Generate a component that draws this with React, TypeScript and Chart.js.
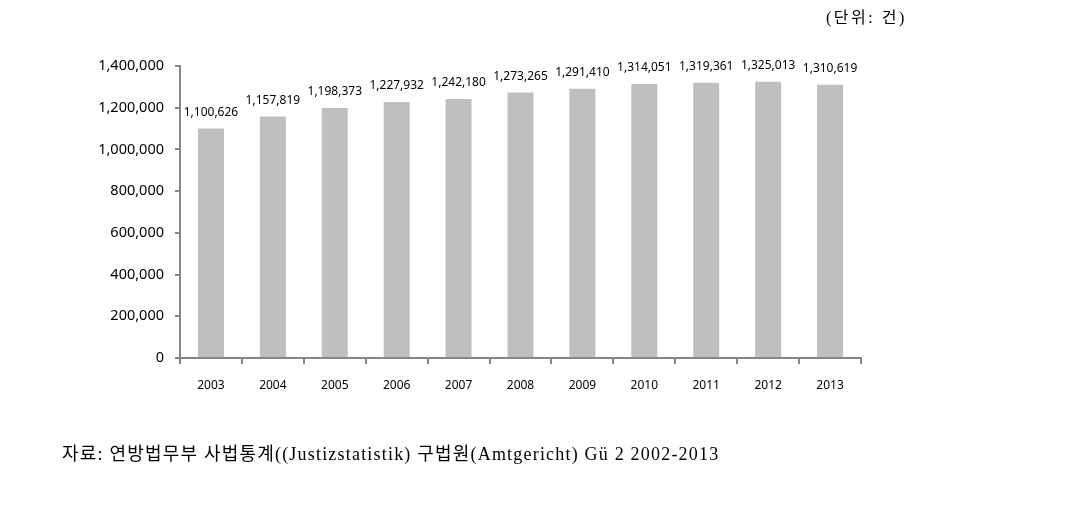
import React, { useEffect, useRef } from "react";
import { Chart, registerables } from "chart.js";

Chart.register(...registerables);

const years = ["2003", "2004", "2005", "2006", "2007", "2008", "2009", "2010", "2011", "2012", "2013"];
const cases = [1100626, 1157819, 1198373, 1227932, 1242180, 1273265, 1291410, 1314051, 1319361, 1325013, 1310619];
const unitLabel = "(단위: 건)";
const sourceLabel = "자료: 연방법무부 사법통계((Justizstatistik) 구법원(Amtgericht) Gü 2 2002-2013";

const fmt = (v: number) => v.toLocaleString("en-US");

const valueLabels = {
  id: "valueLabels",
  afterDatasetsDraw(chart: any) {
    const ctx = chart.ctx;
    const meta = chart.getDatasetMeta(0);
    ctx.save();
    ctx.font = "12px 'Noto Sans'";
    ctx.fillStyle = "#000";
    ctx.textAlign = "center";
    ctx.textBaseline = "middle";
    meta.data.forEach((bar: any, i: number) => {
      ctx.fillText(fmt(cases[i]), bar.x, bar.y - 16);
    });
    ctx.restore();
  },
};

export default function App() {
  const ref = useRef<HTMLCanvasElement>(null);
  useEffect(() => {
    if (!ref.current) return;
    const chart = new Chart(ref.current, {
      type: "bar",
      data: {
        labels: years,
        datasets: [
          {
            data: cases,
            backgroundColor: "#BFBFBF",
            borderWidth: 0,
            categoryPercentage: 1,
            barPercentage: 0.42,
          },
        ],
      },
      options: {
        animation: false,
        responsive: false,
        maintainAspectRatio: false,
        layout: { padding: { left: 0, top: 66, right: 208, bottom: 0 } },
        plugins: { legend: { display: false }, tooltip: { enabled: false } },
        scales: {
          x: {
            grid: { drawOnChartArea: false, drawTicks: true, tickLength: 6, color: "#868686", lineWidth: 2, offset: true },
            border: { color: "#868686", width: 2 },
            ticks: { color: "#000", font: { family: "'Noto Sans'", size: 12 }, padding: 14, maxRotation: 0 },
            afterFit: (s: any) => { s.height = 165; },
          },
          y: {
            min: 0,
            max: 1400000,
            grid: { drawOnChartArea: false, drawTicks: true, tickLength: 5, color: "#868686", lineWidth: 2 },
            border: { color: "#868686", width: 2 },
            ticks: {
              stepSize: 200000,
              color: "#000",
              font: { family: "'Noto Sans'", size: 14.5 },
              padding: 11,
              callback: (v: any) => fmt(Number(v)),
            },
            afterFit: (s: any) => { s.width = 180; },
          },
        },
      },
      plugins: [valueLabels],
    });
    return () => chart.destroy();
  }, []);
  return (
    <div style={{ position: "absolute", left: 0, top: 0, width: 1069, height: 523, background: "#fff" }}>
      <canvas ref={ref} width={1069} height={523} style={{ position: "absolute", left: 0, top: 0 }} />
      <div style={{ position: "absolute", left: 826, top: 4, fontFamily: "'Liberation Serif', 'Noto Sans CJK KR'", fontSize: 16, letterSpacing: "2.5px", color: "#000", whiteSpace: "nowrap" }}>
        {unitLabel}
      </div>
      <div style={{ position: "absolute", left: 62, top: 439, fontFamily: "'Liberation Serif', 'Noto Sans CJK KR'", fontSize: 18, letterSpacing: "1.2px", color: "#000", whiteSpace: "nowrap" }}>
        {sourceLabel}
      </div>
    </div>
  );
}
